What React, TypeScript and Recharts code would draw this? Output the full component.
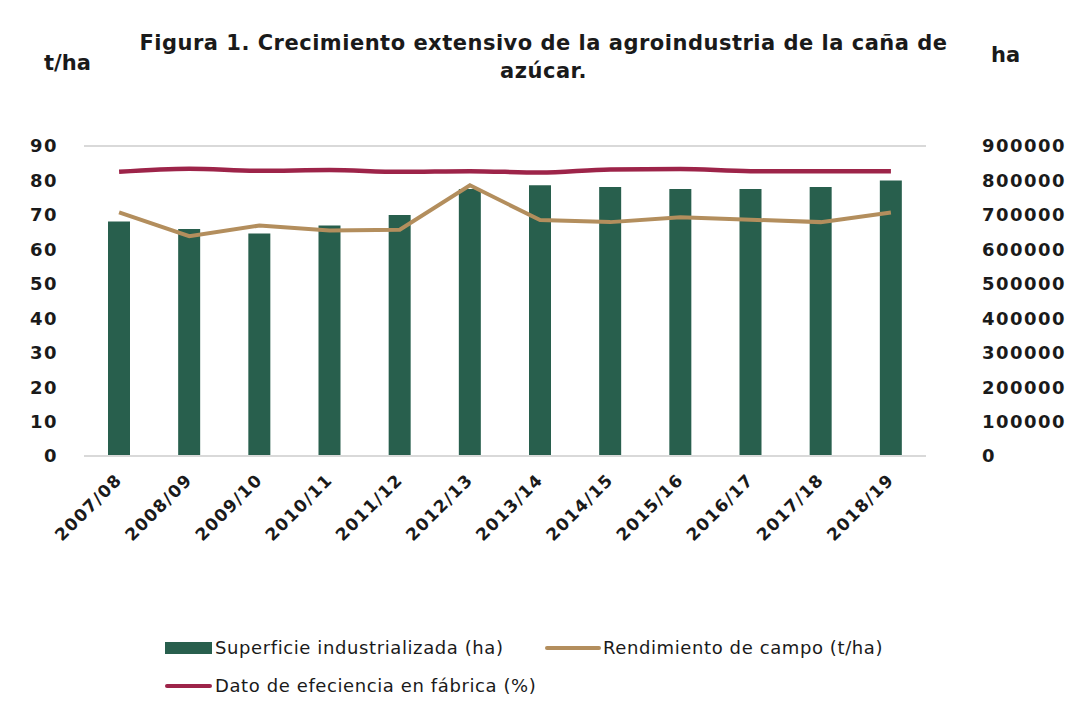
import React from 'react';
import { ComposedChart, Bar, Line, XAxis, YAxis, CartesianGrid } from 'recharts';

const seasons = [
  '2007/08', '2008/09', '2009/10', '2010/11', '2011/12', '2012/13',
  '2013/14', '2014/15', '2015/16', '2016/17', '2017/18', '2018/19',
];
const superficie = [681000, 659000, 646000, 669000, 700000, 775000, 786000, 781000, 775000, 775000, 781000, 800000];
const rendimiento = [70.7, 63.8, 66.9, 65.5, 65.7, 78.6, 68.5, 67.9, 69.3, 68.6, 67.9, 70.7];
const eficiencia = [82.5, 83.4, 82.8, 83.0, 82.5, 82.7, 82.3, 83.2, 83.3, 82.7, 82.7, 82.7];
const leftTicks = [0, 10, 20, 30, 40, 50, 60, 70, 80, 90];
const rightTicks = [0, 100000, 200000, 300000, 400000, 500000, 600000, 700000, 800000, 900000];

const GREEN = '#285f4d';
const GOLD = '#b38e5d';
const RED = '#9d2449';
const FONT = '"DejaVu Sans", sans-serif';

const data = seasons.map((s, i) => ({
  season: s,
  superficie: superficie[i],
  rendimiento: rendimiento[i],
  eficiencia: eficiencia[i],
}));

const SeasonTick = ({ x, y, payload }: { x?: number; y?: number; payload?: { value: string } }) => (
  <g transform={`translate(${(x ?? 0) + 4},${(y ?? 0) + 17})`}>
    <text textAnchor="end" transform="rotate(-45)" fill="#1a1a1a" fontSize={17} fontWeight={700} letterSpacing={1.3} fontFamily={FONT}>
      {payload?.value}
    </text>
  </g>
);

const tickStyle = { fill: '#1a1a1a', fontSize: 18, fontWeight: 700, fontFamily: FONT, letterSpacing: 1.5 };

export default function App() {
  return (
    <div style={{ position: 'absolute', left: 0, top: 0, width: 1067, height: 712, background: '#fff', fontFamily: FONT }}>
      <div style={{ position: 'absolute', left: 0, width: 1087, top: 29, textAlign: 'center', fontSize: 21, fontWeight: 700, color: '#1a1a1a', lineHeight: '28px', letterSpacing: 0.5 }}>
        Figura 1. Crecimiento extensivo de la agroindustria de la caña de
        <br />
        azúcar.
      </div>
      <div style={{ position: 'absolute', left: 44, top: 51, fontSize: 21, fontWeight: 700, color: '#1a1a1a' }}>t/ha</div>
      <div style={{ position: 'absolute', left: 991, top: 43, fontSize: 21, fontWeight: 700, color: '#1a1a1a' }}>ha</div>

      <ComposedChart width={1067} height={712} data={data} margin={{ top: 146, right: 0, bottom: 0, left: 0 }} barCategoryGap={0}>
        <CartesianGrid vertical={false} stroke="#d9d9d9" strokeWidth={2} />
        <XAxis
          dataKey="season"
          height={256}
          interval={0}
          tick={<SeasonTick />}
          tickLine={false}
          axisLine={{ stroke: '#d9d9d9', strokeWidth: 2 }}
        />
        <YAxis
          yAxisId="left"
          orientation="left"
          width={84}
          domain={[0, 90]}
          ticks={leftTicks}
          tick={tickStyle}
          tickLine={false}
          axisLine={false}
          tickMargin={20}
        />
        <YAxis
          yAxisId="right"
          orientation="right"
          width={141}
          domain={[0, 900000]}
          ticks={rightTicks}
          tick={tickStyle}
          tickLine={false}
          axisLine={false}
          tickMargin={50}
        />
        <Bar yAxisId="right" dataKey="superficie" fill={GREEN} barSize={22} isAnimationActive={false} />
        <Line yAxisId="left" type="linear" dataKey="rendimiento" stroke={GOLD} strokeWidth={4} dot={false} isAnimationActive={false} />
        <Line yAxisId="left" type="monotone" dataKey="eficiencia" stroke={RED} strokeWidth={4.5} dot={false} isAnimationActive={false} />
      </ComposedChart>

      <div style={{ position: 'absolute', left: 0, top: 0, width: 1067, height: 712, pointerEvents: 'none', fontFamily: FONT, fontSize: 18, letterSpacing: 0.6, color: '#1a1a1a' }}>
        <div style={{ position: 'absolute', left: 165, top: 637, display: 'flex', alignItems: 'center' }}>
          <span style={{ display: 'inline-block', width: 47, height: 12, background: GREEN, marginRight: 3 }} />
          Superficie industrializada (ha)
        </div>
        <div style={{ position: 'absolute', left: 545, top: 637, display: 'flex', alignItems: 'center' }}>
          <span style={{ display: 'inline-block', width: 56, height: 4, background: GOLD, marginRight: 2, borderRadius: 2 }} />
          Rendimiento de campo (t/ha)
        </div>
        <div style={{ position: 'absolute', left: 165, top: 675, display: 'flex', alignItems: 'center' }}>
          <span style={{ display: 'inline-block', width: 47, height: 4, background: RED, marginRight: 3, borderRadius: 2 }} />
          Dato de efeciencia en fábrica (%)
        </div>
      </div>
    </div>
  );
}
